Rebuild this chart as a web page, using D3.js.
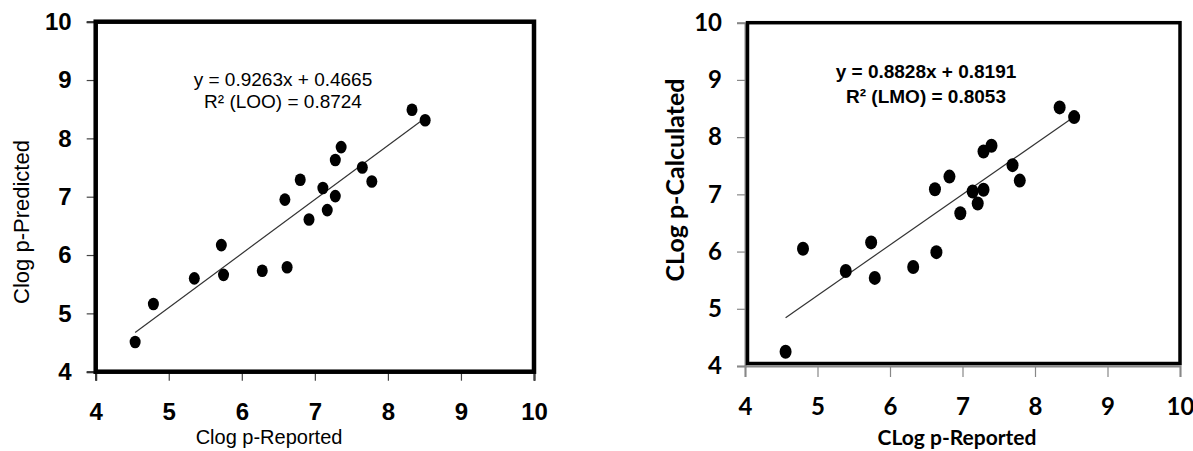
<!DOCTYPE html>
<html>
<head>
<meta charset="utf-8">
<script src="https://cdn.jsdelivr.net/npm/d3@7"></script>
<style>
body{margin:0;background:#fff;}
svg{display:block;}
</style>
</head>
<body>
<svg id="chart" width="1193" height="451"></svg>
<script>
// left panel: LOO
var looReported=[4.54,4.79,5.35,5.72,5.75,6.28,6.59,6.62,6.80,6.92,7.11,7.17,7.28,7.28,7.36,7.65,7.78,8.33,8.51];
var looPredicted=[4.51,5.16,5.60,6.17,5.66,5.73,6.95,5.79,7.29,6.61,7.15,6.77,7.63,7.01,7.85,7.50,7.26,8.49,8.31];
var looSlope=0.9263, looIntercept=0.4665;
var looText=["y = 0.9263x + 0.4665","R\u00b2 (LOO) = 0.8724"];

// right panel: LMO
var lmoReported=[4.56,4.80,5.39,5.74,5.79,6.32,6.62,6.64,6.82,6.97,7.14,7.21,7.29,7.29,7.40,7.69,7.79,8.34,8.54];
var lmoCalculated=[4.25,6.05,5.66,6.16,5.54,5.73,7.09,5.99,7.31,6.67,7.05,6.84,7.08,7.75,7.85,7.51,7.24,8.52,8.35];
var lmoSlope=0.8828, lmoIntercept=0.8191;
var lmoText=["y = 0.8828x + 0.8191","R\u00b2 (LMO) = 0.8053"];

var axisTicks=[4,5,6,7,8,9,10];

var svg=d3.select("#chart");

function drawPanel(p){
  var x=d3.scaleLinear().domain([4,10]).range([p.left,p.right]);
  var y=d3.scaleLinear().domain([4,10]).range([p.bottom,p.top]);
  var g=svg.append("g");

  var yAxis=g.append("g")
    .attr("transform","translate("+p.left+",0)")
    .call(d3.axisLeft(y).tickValues(axisTicks).tickFormat(d3.format("d")).tickSize(p.tick).tickPadding(p.yPad));
  var xAxis=g.append("g")
    .attr("transform","translate(0,"+p.bottom+")")
    .call(d3.axisBottom(x).tickValues(axisTicks).tickFormat(d3.format("d")).tickSize(p.xTick).tickPadding(p.xPad));

  [xAxis,yAxis].forEach(function(a){
    a.select(".domain").attr("stroke",p.domainColor).attr("stroke-width",2);
    a.selectAll(".tick line").attr("stroke",p.tickColor).attr("stroke-width",1.2);
    a.selectAll(".tick text")
      .attr("fill","#000")
      .style("font-family",p.font)
      .style("font-weight","bold")
      .style("font-size",p.tickFont+"px");
  });

  g.append("rect")
    .attr("x",p.left+p.frameIn).attr("y",p.top)
    .attr("width",p.right-p.left-p.frameIn).attr("height",p.bottom-p.top-p.frameIn)
    .attr("fill","none").attr("stroke","#000").attr("stroke-width",p.frame);

  var xs=p.xs, ys=p.ys;
  var x0=d3.min(xs), x1=d3.max(xs);
  g.append("line")
    .attr("x1",x(x0)).attr("y1",y(p.slope*x0+p.intercept))
    .attr("x2",x(x1)).attr("y2",y(p.slope*x1+p.intercept))
    .attr("stroke","#333").attr("stroke-width",1.2);

  g.selectAll(".dot").data(xs).enter().append("ellipse")
    .attr("class","dot")
    .attr("cx",function(d){return x(d);})
    .attr("cy",function(d,i){return y(ys[i]);})
    .attr("rx",p.rx).attr("ry",p.ry)
    .attr("fill","#000");

  g.selectAll(".eq").data(p.eq).enter().append("text")
    .attr("class","eq")
    .attr("x",p.eqX)
    .attr("y",function(d,i){return p.eqY+i*p.eqGap;})
    .attr("text-anchor","middle")
    .style("font-family",p.eqFont)
    .style("font-weight",p.eqWeight)
    .style("font-size",p.eqSize+"px")
    .text(function(d){return d;});

  g.append("text")
    .attr("x",p.xTitleX).attr("y",p.xTitleY)
    .attr("text-anchor","middle")
    .style("font-family",p.font)
    .style("font-weight",p.titleWeight)
    .style("font-size",p.titleSize+"px")
    .text(p.xTitle);

  g.append("text")
    .attr("transform","translate("+p.yTitleX+","+p.yTitleY+") rotate(-90)")
    .attr("text-anchor","middle")
    .style("font-family",p.font)
    .style("font-weight",p.titleWeight)
    .style("font-size",p.yTitleSize+"px")
    .text(p.yTitle);
}

drawPanel({
  left:95.7,right:534,top:21.7,bottom:371.7,
  tick:9,yPad:15,xTick:9,xPad:22,
  domainColor:"#000",tickColor:"#444",
  font:"'Liberation Sans', Arial, sans-serif",tickFont:24,
  frame:4.5,frameIn:0,
  xs:looReported,ys:looPredicted,slope:looSlope,intercept:looIntercept,
  rx:5.5,ry:6.3,
  eq:looText,eqX:283,eqY:86,eqGap:22,eqFont:"'Liberation Sans', Arial, sans-serif",eqWeight:"normal",eqSize:19,
  xTitle:"Clog p-Reported",xTitleX:269,xTitleY:444,titleWeight:"normal",titleSize:20,
  yTitle:"Clog p-Predicted",yTitleX:29,yTitleY:222,yTitleSize:22
});

drawPanel({
  left:745,right:1180,top:22.7,bottom:366,
  tick:8,yPad:15,xTick:11,xPad:21,
  domainColor:"#888",tickColor:"#888",
  font:"Lato, sans-serif",tickFont:24,
  frame:3.5,frameIn:2.5,
  xs:lmoReported,ys:lmoCalculated,slope:lmoSlope,intercept:lmoIntercept,
  rx:6,ry:7,
  eq:lmoText,eqX:926,eqY:78,eqGap:25,eqFont:"'Liberation Sans', Arial, sans-serif",eqWeight:"bold",eqSize:19,
  xTitle:"CLog p-Reported",xTitleX:957,xTitleY:445,titleWeight:"bold",titleSize:21,
  yTitle:"CLog p-Calculated",yTitleX:684,yTitleY:180,yTitleSize:25
});
</script>
</body>
</html>
